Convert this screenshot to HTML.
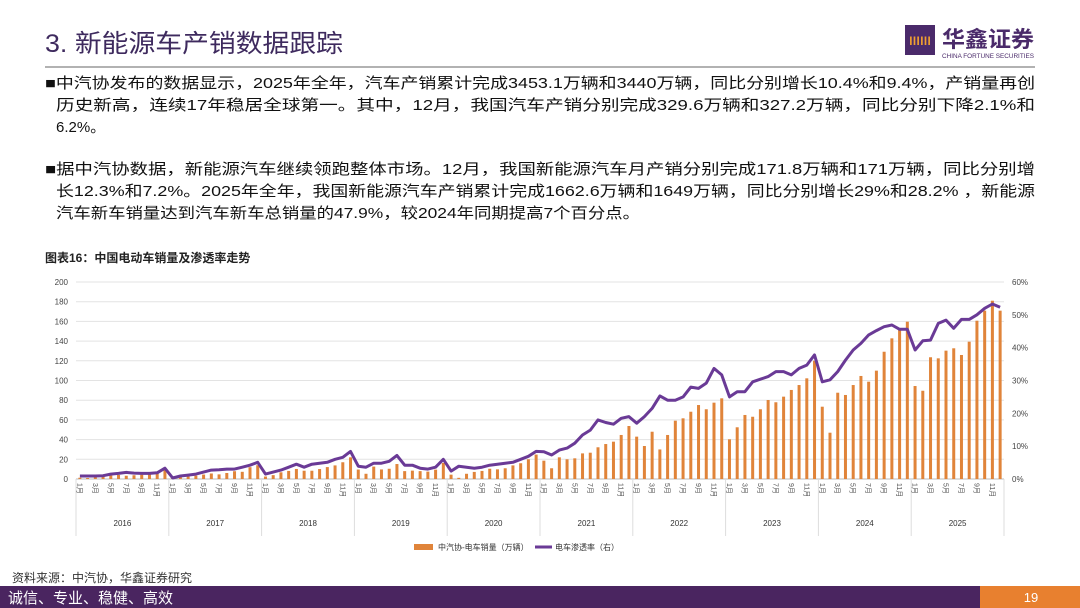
<!DOCTYPE html>
<html><head><meta charset="utf-8">
<style>
html,body{margin:0;padding:0;background:#fff;}
body{width:1080px;height:608px;position:relative;overflow:hidden;font-family:"Liberation Sans","Noto Sans CJK SC",sans-serif;}
</style></head>
<body>
<svg id="page" width="1080" height="608" viewBox="0 0 1080 608" xmlns="http://www.w3.org/2000/svg" style="position:absolute;left:0;top:0" font-family="Liberation Sans, Noto Sans CJK SC, sans-serif">
  <text x="45" y="52" font-size="25" fill="#3e2a5e" textLength="298" lengthAdjust="spacingAndGlyphs">3. 新能源车产销数据跟踪</text>
  <line x1="45" y1="67" x2="1035" y2="67" stroke="#999" stroke-width="1.5"/>
  <g>
    <rect x="905" y="25" width="30" height="30" fill="#4a2a6a"/>
    <text x="920" y="45" font-size="11" fill="#f0a030" text-anchor="middle" font-weight="bold">ⅢⅢ</text>
    <text x="942" y="47" font-size="22" fill="#4a2a6a" font-weight="bold" textLength="92" lengthAdjust="spacingAndGlyphs">华鑫证券</text>
    <text x="942" y="58" font-size="6.5" fill="#4a2a6a" textLength="92" lengthAdjust="spacingAndGlyphs">CHINA FORTUNE SECURITIES</text>
  </g>
  <g font-size="15" fill="#111">
    <text x="45" y="88" textLength="990" lengthAdjust="spacingAndGlyphs">■中汽协发布的数据显示，2025年全年，汽车产销累计完成3453.1万辆和3440万辆，同比分别增长10.4%和9.4%，产销量再创</text>
    <text x="56" y="110" textLength="979" lengthAdjust="spacingAndGlyphs">历史新高，连续17年稳居全球第一。其中，12月，我国汽车产销分别完成329.6万辆和327.2万辆，同比分别下降2.1%和</text>
    <text x="56" y="132">6.2%。</text>
    <text x="45" y="174" textLength="990" lengthAdjust="spacingAndGlyphs">■据中汽协数据，新能源汽车继续领跑整体市场。12月，我国新能源汽车月产销分别完成171.8万辆和171万辆，同比分别增</text>
    <text x="56" y="196" textLength="979" lengthAdjust="spacingAndGlyphs">长12.3%和7.2%。2025年全年，我国新能源汽车产销累计完成1662.6万辆和1649万辆，同比分别增长29%和28.2% ，新能源</text>
    <text x="56" y="218" textLength="584" lengthAdjust="spacingAndGlyphs">汽车新车销量达到汽车新车总销量的47.9%，较2024年同期提高7个百分点。</text>
  </g>
  <text x="45" y="262" font-size="12" font-weight="bold" fill="#222">图表16：中国电动车销量及渗透率走势</text>
  <g id="chart"></g>
  <g font-size="8" fill="#333">
    <rect x="414" y="544" width="19" height="6" fill="#e0843a"/>
    <text x="438" y="550">中汽协-电车销量（万辆）</text>
    <line x1="535" y1="547" x2="552" y2="547" stroke="#6a3a96" stroke-width="3"/>
    <text x="555" y="550">电车渗透率（右）</text>
  </g>
  <text x="12" y="582" font-size="12" fill="#333">资料来源：中汽协，华鑫证券研究</text>
  <rect x="0" y="586" width="980" height="22" fill="#4a2560"/>
  <rect x="980" y="586" width="100" height="22" fill="#e8802f"/>
  <text x="8" y="603" font-size="15" fill="#fff">诚信、专业、稳健、高效</text>
  <text x="1031" y="602" font-size="13" fill="#fff" text-anchor="middle">19</text>
</svg>
<script>
const years = ['2016','2017','2018','2019','2020','2021','2022','2023','2024','2025'];
const leftTicks = [0,20,40,60,80,100,120,140,160,180,200];
const rightTicks = ['0%','10%','20%','30%','40%','50%','60%'];
const sales = [
 1.3,1.0,2.4,2.8,3.5,4.1,3.3,3.8,4.4,4.8,5.5,10.6,
 0.7,2.3,3.1,3.4,4.5,5.6,4.7,6.1,7.9,7.3,12,14,
 2.5,3.9,6.8,8.2,10.2,8.4,8.4,10.1,12.1,13.8,17,22,
 9.6,5.3,12.6,9.7,10.4,15.2,8,8.5,8,7.5,9.5,16.3,
 4.4,1.2,5.3,7.2,8.2,10.4,9.8,10.9,13.8,16,20,24.8,
 18.6,10.9,22,20,21,26,26.7,32.2,35.5,37.9,44.7,53.8,
 43,33.5,48,30,44.7,59.2,61.6,68.3,75.1,70.8,77.5,81.9,
 40.3,52.5,65,63.2,70.8,80.2,77.9,83.6,90.4,95.4,102.2,120.1,
 73.4,47,87.6,85.3,95.4,104.6,98.8,110,129.2,142.8,151.3,159.7,
 94.4,89.6,123.6,122.5,130.3,132.7,125.9,139.4,160.7,170.9,181,170.9];
const penetration = [
 0.9,0.9,0.9,1.0,1.5,1.7,2.0,1.8,1.7,1.7,1.9,3.3,
 0.3,0.9,1.2,1.5,2.1,2.7,2.8,3.0,3.0,3.6,4.2,5.1,
 1.5,2.1,2.7,3.6,4.5,3.6,4.5,4.8,5.1,6.0,6.6,8.4,
 3.9,3.6,4.8,4.8,5.4,7.2,4.2,4.2,3.3,3.0,3.6,6.0,
 2.4,3.9,3.6,3.3,3.6,4.2,4.5,4.8,5.1,6.0,6.9,8.4,
 8.3,7.3,8.8,9.4,10.9,13.4,14.9,18,17.2,16.7,18.5,19,
 17,19,21.5,25.3,24,24,25,28,27.6,29.2,33.7,31.7,
 25,26.6,26.6,29.6,30.4,31.2,32.7,32.7,31.7,33.7,34.7,37.8,
 29.6,30.2,32.7,36.2,39.3,41.3,43.9,45.2,46.4,46.9,45.6,45.6,
 39.3,42.1,42.3,47.4,48.4,45.9,48.6,48.6,50,52,53.3,52.3];

const NS='http://www.w3.org/2000/svg';
const g=document.getElementById('chart');
const X0=76, X1=1004, Y0=479, Y1=282;
const n=sales.length, step=(X1-X0)/n;
const xAt=i=>X0+(i+0.5)*step;
const yL=v=>Y0-(v/200)*(Y0-Y1);
const yR=p=>Y0-(p/60)*(Y0-Y1);
function mk(tag,attrs,parent){const e=document.createElementNS(NS,tag);for(const k in attrs)e.setAttribute(k,attrs[k]);(parent||g).appendChild(e);return e;}

leftTicks.forEach((t,i)=>{
  const y=yL(t);
  const gl=mk('line',{x1:X0,x2:X1,y1:y,y2:y,stroke:t===0?'#bbb':'#e3e3e3','stroke-width':1});
  
  
  const tx=mk('text',{x:68,y:y+3,'font-size':8,fill:'#444','text-anchor':'end'});
  tx.textContent=t;
  
  
});
rightTicks.forEach((t,i)=>{
  const y=yR(i*10);
  const tx=mk('text',{x:1012,y:y+3,'font-size':8,fill:'#444'});
  tx.textContent=t;
  
  
});
sales.forEach((v,i)=>{
  const b=mk('rect',{x:xAt(i)-1.5,y:yL(v),width:3,height:Y0-yL(v),fill:'#e0843a'});
  
  
});
let d='';
penetration.forEach((p,i)=>{d+=(i?'L':'M')+xAt(i).toFixed(1)+','+yR(p).toFixed(1);});
const ln=mk('path',{d:d,fill:'none',stroke:'#6a3a96','stroke-width':3,'stroke-linejoin':'round'});



years.forEach((yr,k)=>{
  const xs=X0+k*12*step;
  const sep=mk('line',{x1:xs,x2:xs,y1:Y0,y2:536,stroke:'#ddd','stroke-width':1});
  
  
  for(let m=1;m<=11;m+=2){
    const x=xAt(k*12+m-1);
    const t=mk('text',{x:0,y:0,'font-size':7,fill:'#555',transform:`translate(${x-2.5},483) rotate(90)`});
    t.textContent=m+'月';
    
    
  }
  const yt=mk('text',{x:xs+6*step,y:526,'font-size':8,fill:'#333','text-anchor':'middle'});
  yt.textContent=yr;
  
  
});
const endSep=mk('line',{x1:X1,x2:X1,y1:Y0,y2:536,stroke:'#ddd','stroke-width':1});


</script>
</body></html>
